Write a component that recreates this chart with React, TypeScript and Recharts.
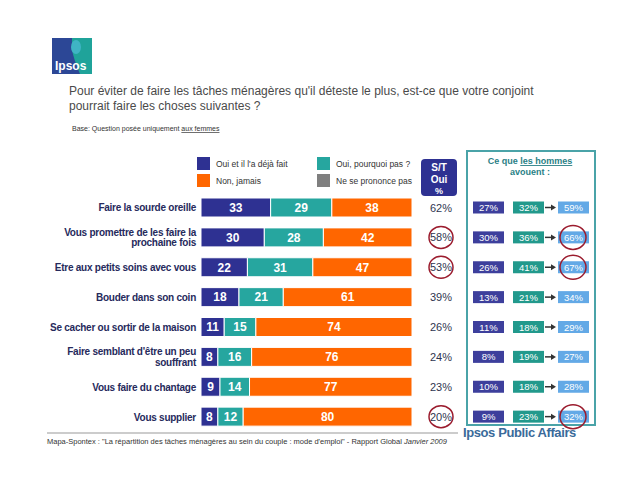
import React from 'react';
import { BarChart, Bar, XAxis, YAxis, LabelList } from 'recharts';

const CATEGORIES = [
  'Faire la sourde oreille',
  'Vous promettre de les faire la\nprochaine fois',
  'Etre aux petits soins avec vous',
  'Bouder dans son coin',
  'Se cacher ou sortir de la maison',
  "Faire semblant d'être un peu\nsouffrant",
  'Vous faire du chantage',
  'Vous supplier',
];
const DEJA_FAIT = [33, 30, 22, 18, 11, 8, 9, 8];
const POURQUOI_PAS = [29, 28, 31, 21, 15, 16, 14, 12];
const JAMAIS = [38, 42, 47, 61, 74, 76, 77, 80];
const ST_OUI = [62, 58, 53, 39, 26, 24, 23, 20];
const ST_CIRCLED = [false, true, true, false, false, false, false, true];

// ce que les hommes avouent
const HOMMES_DEJA = [27, 30, 26, 13, 11, 8, 10, 9];
const HOMMES_POURQUOI = [32, 36, 41, 21, 18, 19, 18, 23];
const HOMMES_TOTAL = [59, 66, 67, 34, 29, 27, 28, 32];
const HOMMES_CIRCLED = [false, true, true, false, false, false, false, true];

const LEGEND = [
  { label: "Oui et il l'a déjà fait", color: '#2e3192' },
  { label: 'Oui, pourquoi pas ?', color: '#26a69f' },
  { label: 'Non, jamais', color: '#ff6600' },
  { label: 'Ne se prononce pas', color: '#7f7f7f' },
];

const data = CATEGORIES.map((label, i) => ({
  label,
  deja: DEJA_FAIT[i],
  pourquoi: POURQUOI_PAS[i],
  jamais: JAMAIS[i],
  st: ST_OUI[i],
}));

const FONT = 'Arial, "Liberation Sans", sans-serif';
const CIRCLE = '#9b1c2e';

const CategoryTick = (props: any) => {
  const { x, y, payload } = props;
  const lines = String(payload.value).split('\n');
  const start = lines.length > 1 ? -2 : 3.5;
  return (
    <text x={x + 3} y={y} textAnchor="end" fontFamily={FONT} fontWeight="bold" fontSize={10} letterSpacing={-0.25} fill="#262a5c">
      {lines.map((l, i) => (
        <tspan key={i} x={x + 3} dy={i === 0 ? start : 10.5}>
          {l}
        </tspan>
      ))}
    </text>
  );
};

const SideColumns = (props: any) => {
  const vb = props.viewBox ?? props;
  const y = vb.y ?? props.y;
  const h = vb.height ?? props.height;
  const i = props.index;
  const cy = y + h / 2;
  const box = (x: number, fill: string, v: number) => (
    <g>
      <rect x={x} y={cy - 6} width={31} height={12} fill={fill} />
      <text x={x + 15.5} y={cy + 3.5} textAnchor="middle" fontFamily={FONT} fontSize={9.5} fill="#fff">
        {v}%
      </text>
    </g>
  );
  return (
    <g>
      <text x={441} y={cy + 4} textAnchor="middle" fontFamily={FONT} fontSize={11} fill="#2f3550">
        {ST_OUI[i]}%
      </text>
      {ST_CIRCLED[i] && <ellipse cx={441} cy={cy} rx={12} ry={11} fill="none" stroke={CIRCLE} strokeWidth={1.5} />}
      {box(473, '#3d3f9c', HOMMES_DEJA[i])}
      {box(513, '#22998c', HOMMES_POURQUOI[i])}
      <line x1={545} y1={cy} x2={552} y2={cy} stroke="#333" strokeWidth={1.5} />
      <path d={`M551 ${cy - 3} L556 ${cy} L551 ${cy + 3} Z`} fill="#333" />
      {box(558, '#63a9e6', HOMMES_TOTAL[i])}
      {HOMMES_CIRCLED[i] && <ellipse cx={573} cy={cy} rx={13} ry={12} fill="none" stroke={CIRCLE} strokeWidth={1.5} />}
    </g>
  );
};

const segLabel = { fill: '#fff', fontSize: 12, fontWeight: 'bold', fontFamily: FONT };

export default function App() {
  return (
    <div style={{ position: 'absolute', left: 0, top: 0, width: 640, height: 480, background: '#fff', fontFamily: FONT, overflow: 'hidden' }}>
      <svg width={640} height={480} style={{ position: 'absolute', left: 0, top: 0 }}>
        <rect x={52} y={38} width={40} height={36} fill="#2c4796" />
        <path d="M72 38 L92 38 L92 74 L80 74 Q74 60 72 50 Z" fill="#1fa39a" />
        <ellipse cx={76} cy={47} rx={5} ry={7} fill="#3fb4c4" />
        <text x={55} y={70} fontFamily={FONT} fontWeight="bold" fontSize={12} fill="#fff">Ipsos</text>
        <text x={69} y={95} fontSize={12} fontFamily={FONT} fill="#4a4a4a">
          Pour éviter de faire les tâches ménagères qu'il déteste le plus, est-ce que votre conjoint
        </text>
        <text x={69} y={110} fontSize={12} fontFamily={FONT} fill="#4a4a4a">
          pourrait faire les choses suivantes ?
        </text>
        <text x={72} y={131} fontSize={7} fontFamily={FONT} fill="#333">
          Base: Question posée uniquement <tspan textDecoration="underline">aux femmes</tspan>
        </text>
        {LEGEND.map((l, i) => {
          const lx = i % 2 === 0 ? 197 : 317;
          const ly = i < 2 ? 157 : 174;
          return (
            <g key={l.label}>
              <rect x={lx} y={ly} width={13} height={13} fill={l.color} />
              <text x={lx + 19} y={ly + 9.5} fontSize={8.5} fontFamily={FONT} fill="#333">{l.label}</text>
            </g>
          );
        })}
        <rect x={421} y={159} width={36} height={37} rx={4} fill="#2e3192" />
        <text x={439} y={171} textAnchor="middle" fontSize={10} fontWeight="bold" fill="#fff" fontFamily={FONT}>S/T</text>
        <text x={439} y={183} textAnchor="middle" fontSize={10} fontWeight="bold" fill="#fff" fontFamily={FONT}>Oui</text>
        <text x={439} y={194} textAnchor="middle" fontSize={9} fontWeight="bold" fill="#fff" fontFamily={FONT}>%</text>
        <rect x={467} y={151} width={128} height={274} fill="none" stroke="#4aa3a8" strokeWidth={2} />
        <text x={530} y={164} textAnchor="middle" fontSize={9} fontWeight="bold" fill="#2a7f86" fontFamily={FONT}>
          Ce que <tspan textDecoration="underline">les hommes</tspan>
        </text>
        <text x={530} y={175} textAnchor="middle" fontSize={9} fontWeight="bold" fill="#2a7f86" fontFamily={FONT}>avouent :</text>
        <line x1={47} y1={433} x2={458} y2={433} stroke="#999" strokeWidth={1} />
        <text x={47} y={444} fontSize={7.5} fontFamily={FONT} fill="#333">
          Mapa-Spontex : "La répartition des tâches ménagères au sein du couple : mode d'emploi" - Rapport Global <tspan fontStyle="italic">Janvier 2009</tspan>
        </text>
        <text x={463} y={437} fontSize={13} fontWeight="bold" letterSpacing={-0.4} fontFamily={FONT} fill="#3a6a9a">Ipsos Public Affairs</text>
      </svg>
      <div style={{ position: 'absolute', left: 0, top: 0 }}>
        <BarChart width={640} height={480} data={data} layout="vertical" margin={{ top: 193, right: 228, bottom: 48, left: 0 }}>
          <XAxis type="number" domain={[0, 100]} hide />
          <YAxis type="category" dataKey="label" width={201} axisLine={false} tickLine={false} tick={<CategoryTick />} interval={0} />
          <Bar dataKey="deja" stackId="a" barSize={19} fill="#2e3192" stroke="#fff" strokeWidth={1} isAnimationActive={false}>
            <LabelList dataKey="deja" position="center" style={segLabel} />
          </Bar>
          <Bar dataKey="pourquoi" stackId="a" barSize={19} fill="#26a69f" stroke="#fff" strokeWidth={1} isAnimationActive={false}>
            <LabelList dataKey="pourquoi" position="center" style={segLabel} />
          </Bar>
          <Bar dataKey="jamais" stackId="a" barSize={19} fill="#ff6600" stroke="#fff" strokeWidth={1} isAnimationActive={false}>
            <LabelList dataKey="jamais" position="center" style={segLabel} />
            <LabelList dataKey="st" content={<SideColumns />} />
          </Bar>
        </BarChart>
      </div>
    </div>
  );
}
